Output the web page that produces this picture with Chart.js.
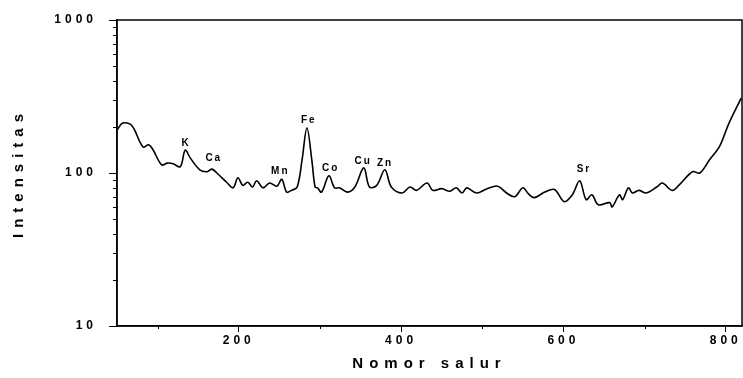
<!DOCTYPE html>
<html>
<head>
<meta charset="utf-8">
<script src="https://cdn.jsdelivr.net/npm/chart.js@4.4.1/dist/chart.umd.min.js"></script>
<style>
  html, body { margin: 0; padding: 0; background: #fff; }
  #wrap { width: 743px; height: 378px; position: relative; }
</style>
</head>
<body>
<div id="wrap"><canvas id="spectrum"></canvas></div>
<script>
// channel numbers and counts
let channels = [50, 57, 68, 82, 89, 94, 105, 112, 119, 128, 134, 140, 152, 161, 167, 173, 185, 193, 199, 205,
  211, 217, 222, 230, 238, 247, 253, 259, 265, 272, 278, 284, 290, 294, 297, 302, 311, 318, 324, 334,
  343, 354, 361, 370, 380, 388, 401, 411, 419, 432, 439, 450, 460, 468, 475, 481, 493, 506, 519, 530, 540, 550, 557, 564, 577,
  589, 601, 611, 620, 628, 635, 643, 657, 660, 669, 673, 680, 685, 693, 702, 715, 722, 734, 743, 759, 768,
  780, 792, 804, 819];
let counts = [190, 212, 205, 148, 153, 143, 113, 116, 115, 110, 141, 126, 105, 102, 106, 100, 87, 80, 93, 83,
  87, 81, 89, 80, 86, 82, 91, 75, 77, 81, 122, 197, 122, 81, 80, 75, 96, 80, 80, 75,
  81, 108, 81, 83, 105, 81, 74, 81, 77, 86, 77, 79, 76, 80, 74, 80, 74, 79, 82, 74, 70, 80, 73, 69, 75,
  78, 65, 72, 89, 67, 72, 62, 64, 60, 72, 67, 80, 74, 77, 74, 81, 86, 77, 84, 102, 100,
  122, 148, 212, 309];

// element labels over the peaks
let peakNames = ['K', 'Ca', 'Mn', 'Fe', 'Co', 'Cu', 'Zn', 'Sr'];
let peakChannels = [134, 168, 250, 285, 312, 352, 379, 624];
let peakLevels = [157, 124, 103, 222, 108, 120, 116, 106];

let xTicks = [200, 400, 600, 800];
let xMinorTicks = [100, 300, 500, 700];
let yTicks = [10, 100, 1000];
let yMinorTicks = [20, 30, 40, 50, 60, 70, 80, 90, 200, 300, 400, 500, 600, 700, 800, 900];

let points = channels.map((c, i) => ({x: c, y: counts[i]}));

// chart.js has no letter spacing option, so wrap the scale text drawing
const letterSpacing = {
    id: 'letterSpacing',
    beforeDraw(chart) {
        Object.values(chart.scales).forEach(s => {
            if (s._spaced) return;
            s._spaced = true;
            let dl = s.drawLabels.bind(s);
            let dt = s.drawTitle.bind(s);
            s.drawLabels = function(a) {
                chart.ctx.save(); chart.ctx.letterSpacing = '4px'; dl(a); chart.ctx.restore();
            };
            s.drawTitle = function(a) {
                chart.ctx.save(); chart.ctx.letterSpacing = '6px'; dt(a); chart.ctx.restore();
            };
        });
    }
};

const extras = {
    id: 'extras',
    afterDraw(chart) {
        let ctx = chart.ctx;
        let area = chart.chartArea;
        let xs = chart.scales.x, ys = chart.scales.y;
        ctx.save();
        ctx.strokeStyle = '#000';
        ctx.lineWidth = 1.5;
        ctx.strokeRect(area.left, area.top, area.right - area.left, area.bottom - area.top);
        ctx.lineWidth = 1;
        ctx.beginPath();
        yMinorTicks.forEach(v => {
            let py = Math.round(ys.getPixelForValue(v)) + 0.5;
            ctx.moveTo(area.left - 4, py);
            ctx.lineTo(area.left, py);
        });
        xMinorTicks.forEach(v => {
            let px = Math.round(xs.getPixelForValue(v)) + 0.5;
            ctx.moveTo(px, area.bottom);
            ctx.lineTo(px, area.bottom + 3);
        });
        ctx.stroke();

        ctx.fillStyle = '#000';
        ctx.font = 'bold 10px "Liberation Sans", Arial, sans-serif';
        ctx.letterSpacing = '2px';
        ctx.textAlign = 'center';
        ctx.textBaseline = 'middle';
        peakNames.forEach((n, i) => {
            ctx.fillText(n, xs.getPixelForValue(peakChannels[i]) + 1, ys.getPixelForValue(peakLevels[i]));
        });
        ctx.restore();
    }
};

const tickFont = {family: '"Liberation Sans", Arial, sans-serif', size: 12, weight: 'bold'};
const titleFont = {family: '"Liberation Sans", Arial, sans-serif', size: 15, weight: 'bold'};

new Chart(document.getElementById('spectrum'), {
    type: 'line',
    data: {
        datasets: [{
            data: points,
            borderColor: '#000',
            borderWidth: 1.6,
            pointRadius: 0,
            tension: 0.35,
            fill: false
        }]
    },
    options: {
        responsive: true,
        maintainAspectRatio: false,
        animation: false,
        layout: {padding: {top: 20, right: 1, left: 0, bottom: 0}},
        plugins: {legend: {display: false}, tooltip: {enabled: false}},
        scales: {
            x: {
                type: 'linear',
                min: 50,
                max: 820,
                afterBuildTicks: s => { s.ticks = xTicks.map(v => ({value: v})); },
                afterFit: s => { s.height = 52; },
                grid: {drawOnChartArea: false, tickLength: 6, color: '#000', lineWidth: 1},
                border: {display: true, color: '#000', width: 1.5},
                ticks: {color: '#000', font: tickFont, padding: 1, maxRotation: 0},
                title: {display: true, text: 'Nomor salur', color: '#000', font: titleFont, padding: {top: 0, bottom: 5}}
            },
            y: {
                type: 'logarithmic',
                min: 10,
                max: 1000,
                afterBuildTicks: s => { s.ticks = yTicks.map(v => ({value: v})); },
                afterFit: s => { s.width = 117; },
                grid: {drawOnChartArea: false, tickLength: 8, color: '#000', lineWidth: 1},
                border: {display: true, color: '#000', width: 1.5},
                ticks: {color: '#000', font: tickFont, padding: 12, callback: v => String(v)},
                title: {display: true, text: 'Intensitas', color: '#000', font: titleFont, padding: {top: 10, bottom: 0}}
            }
        }
    },
    plugins: [letterSpacing, extras]
});
</script>
</body>
</html>
